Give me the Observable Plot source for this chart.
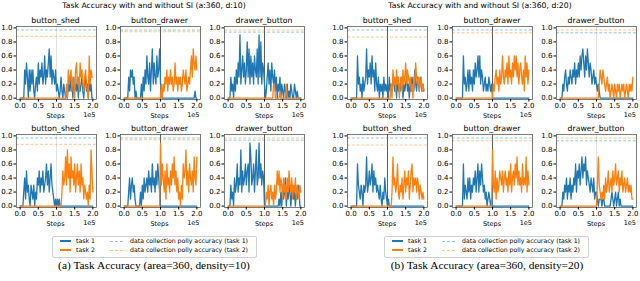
<!DOCTYPE html>
<html><head><meta charset="utf-8">
<script src="https://cdn.jsdelivr.net/npm/d3@7"></script>
<script src="https://cdn.jsdelivr.net/npm/@observablehq/plot@0.6"></script>
<style>
body{margin:0;background:#fff;}
#root{position:relative;width:640px;height:281px;overflow:hidden;background:#fff;}
.abs{position:absolute;white-space:nowrap;}
</style></head><body><div id="root"></div>
<script>
// ---------- labels ----------
const panelTitles = ["Task Accuracy with and without SI (a:360, d:10)", "Task Accuracy with and without SI (a:360, d:20)"];
const subplotTitles = ["button_shed", "button_drawer", "drawer_button"];
const captions = ["(a) Task Accuracy (area=360, density=10)", "(b) Task Accuracy (area=360, density=20)"];
const legendLabels = ["task 1", "task 2", "data collection polly accuracy (task 1)", "data collection polly accuracy (task 2)"];
const xLabel = "Steps";
const xExponent = "1e5";
const xTicks = [0, 50000, 100000, 150000, 200000];
const yTicks = [0, 0.2, 0.4, 0.6, 0.8, 1.0];
const taskSwitch = 100000;
// evaluation steps (every 2500 steps)
const steps = d3.range(0, 200001, 2500);

// ---------- accuracy series (tenths), panel a (density=10) ----------
const a1_shed_t1   = [0,0,0,0,0, 4,2,5,3,0, 4,1,4,2,4, 1,0,2,3,1, 5,2,4,3,5, 2,3,6,2,4, 3,5,7,3,6, 2,4,3,2,4, 1,2,1,0,1, 3,1,0,2,1, 0,1,0,2,1, 3,1,2,0,3, 1,2,1,3,0, 2,1,2,3,1, 0,2,3,1,2, 0,3,1,2,0, 0];
const a1_shed_t2   = [0,0,0,0,0, 0,0,0,0,0, 0,0,0,0,0, 0,0,0,0,0, 0,0,0,0,0, 0,0,0,0,0, 0,0,0,0,0, 0,0,0,0,0, 0,0,0,0,0, 0,0,0,0,0, 0,2,0,4,2, 3,4,1,3,2, 0,4,5,2,3, 1,5,3,4,2, 1,3,4,2,1, 0,6,2,4,3, 3];
const a1_drawer_t1 = [0,0,0,0,0, 3,1,4,3,4, 2,3,0,1,0, 0,0,0,0,2, 0,3,1,4,2, 6,3,2,5,1, 4,7,2,5,3, 2,6,3,4,7, 2,1,0,0,0, 0,0,0,0,0, 0,0,0,0,0, 0,0,0,0,0, 0,0,0,0,0, 0,0,0,0,0, 0,0,0,0,0, 0,0,0,1,0, 0];
const a1_drawer_t2 = [0,0,0,0,0, 0,0,0,0,0, 0,0,0,0,0, 0,0,0,0,0, 0,0,0,0,0, 0,0,0,0,0, 0,0,0,0,0, 0,0,0,0,0, 0,2,0,2,1, 3,2,4,1,3, 2,4,2,3,1, 2,5,2,3,1, 3,2,3,1,2, 4,3,2,4,1, 2,3,2,4,6, 3,7,5,4,6, 4];
const a1_dbtn_t1   = [0,0,0,3,1, 2,0,3,1,4, 2,5,3,9,2, 4,6,3,5,2, 4,8,3,7,2, 6,3,5,2,6, 4,3,7,2,9, 3,8,2,5,4, 2,0,1,3,5, 2,4,1,5,3, 2,4,1,3,0, 2,1,3,0,2, 1,0,2,1,0, 2,0,1,0,2, 1,0,0,2,1, 0,1,0,0,0, 0];
const a1_dbtn_t2   = [0,0,0,0,0, 0,0,0,0,0, 0,0,0,0,0, 0,0,0,0,0, 0,0,0,0,0, 0,0,0,0,0, 0,0,0,0,0, 0,0,0,0,0, 0,0,0,0,0, 0,0,0,0,0, 2,2,0,0,0, 0,0,1,0,0, 0,0,0,0,2, 0,0,0,0,0, 0,0,0,0,0, 0,0,0,0,0, 0];
const a2_shed_t1   = [0,0,0,0,2, 4,1,5,2,3, 1,0,3,2,1, 3,0,2,1,4, 3,5,2,4,3, 5,2,3,4,6, 3,5,2,4,6, 3,2,1,0,1, 0,1,0,1,0, 0,0,0,0,0, 0,0,0,0,0, 0,0,0,0,0, 0,0,0,0,0, 0,0,0,0,0, 0,0,0,0,0, 0,0,0,0,0, 0];
const a2_shed_t2   = [0,0,0,0,0, 0,0,0,0,0, 0,0,0,0,0, 0,0,0,0,0, 0,0,0,0,0, 0,0,0,0,0, 0,0,0,0,0, 0,0,0,0,0, 0,0,0,0,0, 0,2,5,3,4, 7,3,8,4,6, 2,7,4,5,3, 6,2,4,6,3, 5,2,6,3,4, 1,3,2,1,2, 0,3,1,8,5, 2];
const a2_drawer_t1 = [0,0,0,0,0, 2,4,1,3,4, 2,3,1,0,0, 0,0,0,2,0, 3,1,4,2,3, 4,2,5,3,4, 2,6,3,4,2, 5,3,6,4,2, 0,0,0,0,0, 0,0,0,0,0, 0,0,0,0,0, 0,0,0,0,0, 0,0,0,0,0, 0,0,0,0,0, 0,0,0,0,0, 0,0,0,0,0, 0];
const a2_drawer_t2 = [0,0,0,0,0, 0,0,0,0,0, 0,0,0,0,0, 0,0,0,0,0, 0,0,0,0,0, 0,0,0,0,0, 0,0,0,0,0, 0,0,0,0,0, 9,3,6,4,2, 5,1,6,3,4, 2,5,3,6,4, 7,3,5,2,4, 1,2,0,3,1, 6,4,5,8,3, 5,2,6,4,3, 5,2,7,4,3, 7];
const a2_dbtn_t1   = [0,0,0,3,1, 2,0,4,2,3, 6,2,4,3,8, 2,5,3,4,6, 3,5,6,2,9, 7,3,4,6,2, 5,8,3,4,9, 4,6,3,5,4, 0,0,0,0,0, 0,0,0,0,0, 0,0,0,0,0, 0,1,0,2,0, 3,1,2,4,0, 2,1,3,2,0, 2,3,1,2,0, 2,1,3,2,0, 0];
const a2_dbtn_t2   = [0,0,0,0,0, 0,0,0,0,0, 0,0,0,0,0, 0,0,0,0,0, 0,0,0,0,0, 0,0,0,0,0, 0,0,0,0,0, 0,0,0,0,0, 0,0,2,1,3, 0,2,3,1,2, 0,3,1,2,5, 3,5,2,4,3, 1,4,2,3,1, 4,2,5,3,2, 4,1,3,2,4, 1,3,2,1,3, 2];

// ---------- accuracy series (tenths), panel b (density=20) ----------
const b1_shed_t1   = [0,0,0,0,0, 0,0,6,2,3, 1,2,0,3,1, 2,3,7,2,4, 3,5,2,6,3, 4,1,5,2,1, 3,0,2,1,2, 0,3,1,2,1, 2,0,3,1,2, 1,3,2,1,2, 0,3,1,2,1, 3,2,0,2,1, 2,3,1,2,0, 2,1,3,2,1, 4,2,1,3,2, 1,3,2,1,2, 1];
const b1_shed_t2   = [0,0,0,0,0, 0,0,0,0,0, 0,0,0,0,0, 0,0,0,0,0, 0,0,0,0,0, 0,0,0,0,0, 0,0,0,0,0, 0,0,0,0,0, 0,0,0,0,2, 0,4,2,3,1, 4,2,3,0,2, 3,1,4,2,3, 5,2,4,3,2, 3,1,2,0,3, 2,5,3,2,3, 1,2,3,1,2, 1];
const b1_drawer_t1 = [0,0,0,0,0, 0,0,0,6,2, 3,1,2,4,1, 4,2,3,1,4, 2,5,3,4,6, 3,6,2,4,3, 1,2,3,1,2, 1,3,2,1,2, 0,0,0,0,0, 0,0,0,0,0, 0,0,0,0,0, 0,0,0,0,0, 0,0,0,0,0, 0,0,0,0,0, 0,0,0,0,0, 0,0,0,0,0, 0];
const b1_drawer_t2 = [0,0,0,0,0, 0,0,0,0,0, 0,0,0,0,0, 0,0,0,0,0, 0,0,0,0,0, 0,0,0,0,0, 0,0,0,0,0, 0,0,0,0,0, 0,2,1,3,4, 2,3,1,4,2, 3,6,3,2,4, 3,5,2,6,3, 4,2,5,3,6, 4,6,3,5,2, 4,5,3,2,4, 1,6,3,5,2, 4];
const b1_dbtn_t1   = [0,0,0,2,1, 3,4,2,1,3, 2,4,3,2,4, 3,5,2,4,3, 5,3,6,4,6, 7,5,3,6,4, 7,5,3,5,4, 2,3,4,2,3, 2,1,2,1,0, 0,0,0,0,0, 0,0,0,0,0, 0,0,0,0,0, 0,0,0,0,0, 0,0,0,0,0, 0,0,0,0,0, 0,0,0,0,0, 0];
const b1_dbtn_t2   = [0,0,0,0,0, 0,0,0,0,0, 0,0,0,0,0, 0,0,0,0,0, 0,0,0,0,0, 0,0,0,0,0, 0,0,0,0,0, 0,0,0,0,0, 0,0,0,2,4, 3,2,4,3,2, 1,2,3,1,2, 0,1,2,1,0, 2,1,0,2,1, 2,0,1,2,1, 2,0,1,2,1, 0,2,1,2,1, 3];
const b2_shed_t1   = [0,0,0,0,0, 0,0,6,3,2, 1,3,2,0,3, 2,3,7,2,3, 5,3,4,6,2, 5,3,4,2,3, 2,1,3,1,0, 2,1,4,2,1, 0,1,0,0,0, 0,0,0,0,0, 0,0,0,0,0, 0,0,0,0,0, 0,0,0,0,0, 0,0,0,0,0, 0,0,0,0,0, 0,0,0,0,0, 0];
const b2_shed_t2   = [0,0,0,0,0, 0,0,0,0,0, 0,0,0,0,0, 0,0,0,0,0, 0,0,0,0,0, 0,0,0,0,0, 0,0,0,0,0, 0,0,0,0,0, 0,0,0,0,0, 2,7,3,4,2, 3,6,2,1,3, 2,4,1,3,5, 2,4,3,5,1, 3,5,6,2,4, 3,4,2,4,3, 1,3,2,1,2, 1];
const b2_drawer_t1 = [0,0,0,0,0, 0,0,0,6,1, 3,2,1,4,2, 4,1,3,2,4, 3,5,2,4,6, 2,5,3,6,4, 2,3,1,2,0, 1,2,1,0,1, 0,0,0,0,0, 0,0,0,0,0, 0,0,0,0,0, 0,0,0,0,0, 0,0,0,0,0, 0,0,0,0,0, 0,0,0,0,0, 0,0,0,0,0, 0];
const b2_drawer_t2 = [0,0,0,0,0, 0,0,0,0,0, 0,0,0,0,0, 0,0,0,0,0, 0,0,0,0,0, 0,0,0,0,0, 0,0,0,0,0, 0,0,0,0,0, 8,3,2,5,1, 4,2,3,5,4, 3,5,2,4,5, 3,4,2,5,3, 6,2,4,5,3, 6,4,7,3,5, 3,4,2,6,3, 4,3,7,2,5, 3];
const b2_dbtn_t1   = [0,0,0,2,1, 3,2,4,1,3, 2,4,1,3,2, 4,3,6,2,5, 4,6,3,5,7, 4,6,5,7,3, 5,4,3,2,4, 3,2,4,1,2, 2,1,0,1,1, 1,0,1,1,0, 0,0,0,0,0, 0,1,2,1,0, 1,2,0,1,2, 0,1,0,0,0, 0,0,0,0,0, 0,0,0,0,0, 0];
const b2_dbtn_t2   = [0,0,0,0,0, 0,0,0,0,0, 0,0,0,0,0, 0,0,0,0,0, 0,0,0,0,0, 0,0,0,0,0, 0,0,0,0,0, 0,0,0,0,0, 0,3,7,3,2, 1,2,1,3,1, 4,2,3,5,2, 3,4,2,5,3, 4,6,3,4,5, 2,4,3,5,2, 3,4,2,3,4, 2,3,2,3,1, 1];

// data collection policy accuracy [task 1, task 2] per subplot
const policyAccA = [[0.97, 0.88], [0.97, 0.945], [0.94, 0.97]];
const policyAccB = [[0.97, 0.87], [0.97, 0.93], [0.93, 0.97]];
// task-switch marker visibility (1 = dark, 0 = faint)
const switchA = [[0, 1, 1], [0, 1, 1]];
const switchB = [[1, 1, 0], [1, 1, 0]];

const BLUE = "#1f77b4", ORANGE = "#ff7f0e";
const panels = [
  {dx: 0, title: panelTitles[0], caption: captions[0], titleX: 154, captionX: 154,
   series: [[[a1_shed_t1, a1_shed_t2], [a1_drawer_t1, a1_drawer_t2], [a1_dbtn_t1, a1_dbtn_t2]],
            [[a2_shed_t1, a2_shed_t2], [a2_drawer_t1, a2_drawer_t2], [a2_dbtn_t1, a2_dbtn_t2]]],
   policy: policyAccA, sw: switchA, lefts: [15.5, 119.5, 224]},
  {dx: 332, title: panelTitles[1], caption: captions[1], titleX: 480, captionX: 487,
   series: [[[b1_shed_t1, b1_shed_t2], [b1_drawer_t1, b1_drawer_t2], [b1_dbtn_t1, b1_dbtn_t2]],
            [[b2_shed_t1, b2_shed_t2], [b2_drawer_t1, b2_drawer_t2], [b2_dbtn_t1, b2_dbtn_t2]]],
   policy: policyAccB, sw: switchB, lefts: [347, 452, 556]}
];

const root = document.getElementById("root");
const SANS = '"DejaVu Sans", sans-serif';
function addText(txt, x, y, size, anchor, family) {
  const el = document.createElement("div");
  el.className = "abs";
  el.textContent = txt;
  el.style.fontSize = size + "px";
  el.style.lineHeight = "1";
  el.style.fontFamily = family || SANS;
  el.style.color = "#000";
  el.style.left = x + "px";
  el.style.top = y + "px";
  const tx = anchor === "middle" ? "-50%" : anchor === "end" ? "-100%" : "0";
  el.style.transform = `translate(${tx}, -50%)`;
  root.appendChild(el);
  return el;
}

const axW = 80, axH = 73, rowTop = [26, 134];
const ml = 22, mr = 6, mt = 3, mb = 14;

for (const p of panels) {
  addText(p.title, p.titleX, 5.5, 7.7, "middle");
  for (let r = 0; r < 2; r++) {
    for (let c = 0; c < 3; c++) {
      const left = p.lefts[c], top = rowTop[r];
      const [t1, t2] = p.series[r][c];
      const d1 = t1.map((v, i) => ({step: steps[i], acc: v / 10}));
      const d2 = t2.map((v, i) => ({step: steps[i], acc: v / 10}));
      const dark = p.sw[r][c] === 1;
      const svg = Plot.plot({
        width: axW + ml + mr, height: axH + mt + mb,
        marginLeft: ml, marginRight: mr, marginTop: mt, marginBottom: mb,
        style: {fontSize: "7px", fontFamily: "DejaVu Sans", background: "transparent", overflow: "visible", color: "#000"},
        x: {domain: [-10000, 210000]},
        y: {domain: [-0.02, 1.02]},
        marks: [
          Plot.ruleX([taskSwitch], {stroke: dark ? "#333" : "#e2e2e2", strokeWidth: dark ? 0.8 : 1}),
          Plot.ruleY([p.policy[c][0]], {stroke: BLUE, strokeOpacity: 0.45, strokeDasharray: "3,1.8", strokeWidth: 1}),
          Plot.ruleY([p.policy[c][1]], {stroke: ORANGE, strokeOpacity: 0.45, strokeDasharray: "3,1.8", strokeWidth: 1}),
          Plot.line(d1, {x: "step", y: "acc", stroke: BLUE, strokeWidth: 1.3}),
          Plot.line(d2, {x: "step", y: "acc", stroke: ORANGE, strokeWidth: 1.3}),
          Plot.frame({stroke: "#444", strokeWidth: 0.7}),
          Plot.axisX({ticks: xTicks, tickFormat: d => (d / 1e5).toFixed(1), tickSize: 2.5, tickPadding: 1.5, label: null}),
          Plot.axisY({ticks: yTicks, tickFormat: d => d.toFixed(1), tickSize: 2.5, tickPadding: 1.5, label: null})
        ]
      });
      svg.style.position = "absolute";
      svg.style.left = (left - ml) + "px";
      svg.style.top = (top - mt) + "px";
      root.appendChild(svg);
      addText(subplotTitles[c], left + axW / 2, top - 5.5, 7.8, "middle");
      addText(xLabel, left + axW / 2, top + axH + 16.5, 6.5, "middle");
      addText(xExponent, left + axW, top + axH + 15.5, 6.5, "end");
    }
  }
  // legend
  const box = document.createElement("div");
  box.className = "abs";
  Object.assign(box.style, {left: (52 + p.dx) + "px", top: "236px", width: "203px", height: "20px",
    border: "1px solid #d0d0d0", borderRadius: "2px", background: "#fff"});
  root.appendChild(box);
  const rowsY = [241, 250];
  for (let k = 0; k < 2; k++) {
    const col = k === 0 ? BLUE : ORANGE;
    const s = document.createElement("div");
    s.className = "abs";
    Object.assign(s.style, {left: (60 + p.dx) + "px", top: (rowsY[k] - 0.75) + "px", width: "11px", height: "1.5px", background: col});
    root.appendChild(s);
    addText(legendLabels[k], 76 + p.dx, rowsY[k], 6.2, "start");
    const dsh = document.createElement("div");
    dsh.className = "abs";
    Object.assign(dsh.style, {left: (110 + p.dx) + "px", top: (rowsY[k] - 0.5) + "px", width: "13px", height: "0px",
      borderTop: `1px dashed ${col}`, opacity: "0.45"});
    root.appendChild(dsh);
    addText(legendLabels[k + 2], 130 + p.dx, rowsY[k], 6.2, "start");
  }
  addText(p.caption, p.captionX, 266, 11.4, "middle", '"Liberation Serif", serif');
}
</script></body></html>
